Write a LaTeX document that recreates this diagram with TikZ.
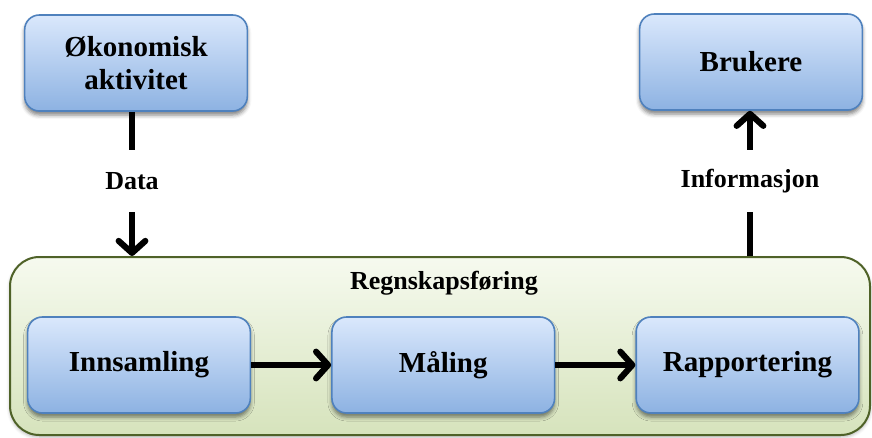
\documentclass[tikz,border=0pt]{standalone}
\usepackage{fontspec}
\setmainfont{Liberation Serif}
\usepackage{tikz}
\usetikzlibrary{positioning,arrows.meta,shadows.blur}
\usepackage{xcolor}

\definecolor{bluetop}{HTML}{DAE8FC}
\definecolor{bluebot}{HTML}{8DB2E2}
\definecolor{blueline}{HTML}{4F81BD}
\definecolor{greentop}{HTML}{F6FAEF}
\definecolor{greenbot}{HTML}{D6E3BC}
\definecolor{greenline}{HTML}{4F6228}

\begin{document}
\begin{tikzpicture}[
  x=0.75pt, y=-0.75pt,
  node distance=60pt,
  >={Straight Barb[length=9pt,width=20pt,line width=4.6pt 0,round]},
  every node/.style={font=\bfseries\fontsize{19.5}{23}\selectfont, align=center},
  stepbox/.style={draw=blueline, line width=1.2pt, rounded corners=11pt,
    top color=bluetop, bottom color=bluebot,
    minimum width=167pt, minimum height=72pt,
    font=\bfseries\fontsize{21.75}{24.75}\selectfont,
    blur shadow={shadow xshift=0pt, shadow yshift=-3pt,
      shadow blur radius=3pt, shadow opacity=50}},
  groupbox/.style={draw=greenline, line width=1.5pt, rounded corners=22pt,
    top color=greentop, bottom color=greenbot,
    minimum width=645pt, minimum height=133.5pt,
    blur shadow={shadow xshift=0pt, shadow yshift=-1.5pt,
      shadow blur radius=2.5pt, shadow opacity=30}},
  flowlabel/.style={minimum height=46.5pt, inner sep=0pt},
  link/.style={line width=4.2pt}
]
  \useasboundingbox (0,0) rectangle (872,437);

  % top row
  \node[stepbox] (okon) at (136,63) {Økonomisk\\aktivitet};
  \node[stepbox] (bruk) at (751,62) {Brukere};

  % accounting group
  \node[groupbox] (regn) at (440,346) {};
  \node (regntitle) at (444,283) {Regnskapsføring};

  \node[stepbox] (inn) at (139,365) {Innsamling};
  \node[stepbox, right=60pt of inn] (maal) {Måling};
  \node[stepbox, right=60pt of maal] (rapp) {Rapportering};

  \draw[link,->] (inn) -- (maal);
  \draw[link,->] (maal) -- (rapp);

  % data in, information out
  \node[flowlabel] (data) at (132,181) {Data};
  \node[flowlabel] (info) at (750,181) {Informasjon};

  \draw[link] (data |- okon.south) -- (data.north);
  \draw[link,->] (data.south) -- (data |- regn.north);
  \draw[link] (info |- regn.north) -- (info.south);
  \draw[link,->] (info.north) -- (info |- bruk.south);
\end{tikzpicture}
\end{document}
